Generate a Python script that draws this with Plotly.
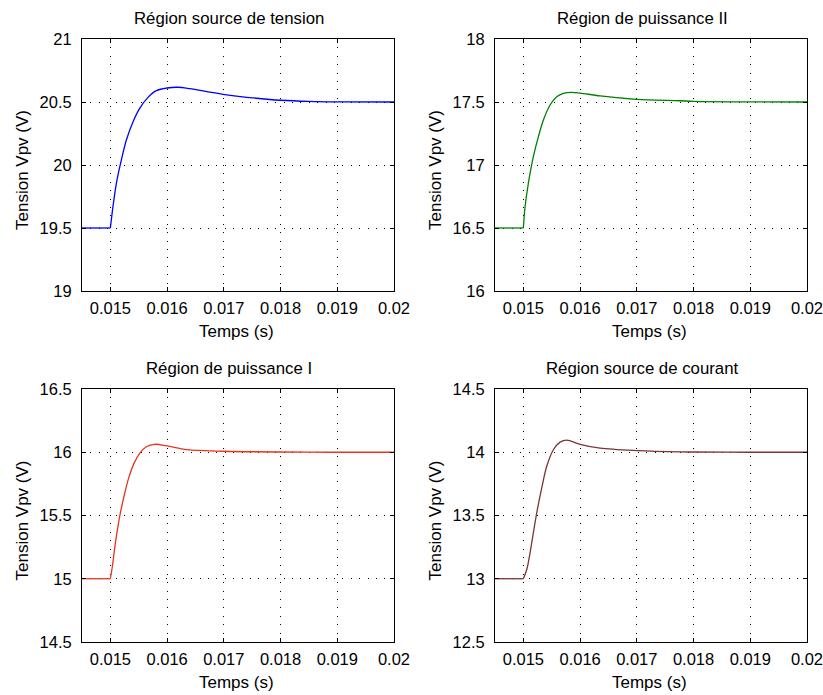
import plotly.graph_objects as go

W, H = 823, 695
OFF = 0  # body margin removed by post_script below

titles = ["Région source de tension", "Région de puissance II",
          "Région de puissance I", "Région source de courant"]
xlabel = "Temps (s)"
ylabel = "Tension Vpv (V)"

x_ticks = [0.015, 0.016, 0.017, 0.018, 0.019, 0.02]
x_ticktext = ["0.015", "0.016", "0.017", "0.018", "0.019", "0.02"]

t_blue = [0.0145, 0.015, 0.015046, 0.015106, 0.015194, 0.015282, 0.0154, 0.015517,
          0.015664, 0.015811, 0.016, 0.016192, 0.0164, 0.016986, 0.01781, 0.018,
          0.0185, 0.019, 0.02]
v_blue = [19.5, 19.5, 19.67, 19.855, 20.04, 20.198, 20.344, 20.45, 20.537, 20.59,
          20.611, 20.617, 20.606, 20.561, 20.52, 20.514, 20.505, 20.501, 20.5]

t_green = [0.0145, 0.015, 0.01503, 0.015088, 0.015176, 0.015265, 0.015353, 0.015471,
           0.015589, 0.015706, 0.015854, 0.016, 0.016353, 0.017, 0.01776, 0.018,
           0.019, 0.02]
v_green = [16.5, 16.5, 16.669, 16.855, 17.066, 17.225, 17.357, 17.476, 17.542,
           17.569, 17.577, 17.571, 17.548, 17.521, 17.51, 17.505, 17.501, 17.5]

t_red = [0.0145, 0.015, 0.015035, 0.015088, 0.015164, 0.015253, 0.01533, 0.015417,
         0.015517, 0.015635, 0.015782, 0.016, 0.01635, 0.017, 0.018, 0.019, 0.02]
v_red = [15.0, 15.0, 15.097, 15.282, 15.492, 15.676, 15.807, 15.912, 15.991, 16.043,
         16.063, 16.05, 16.02, 16.008, 16.002, 16.0, 16.0]

t_brown = [0.0145, 0.015, 0.01506, 0.015118, 0.015176, 0.015236, 0.015324, 0.015412,
           0.015529, 0.015647, 0.015765, 0.016, 0.016353, 0.017, 0.01776, 0.018,
           0.019, 0.02]
v_brown = [13.0, 13.0, 13.073, 13.205, 13.363, 13.521, 13.718, 13.889, 14.02, 14.08,
           14.096, 14.063, 14.032, 14.013, 14.003, 14.002, 14.0, 14.0]

y_ranges = [[19, 21], [16, 18], [14.5, 16.5], [12.5, 14.5]]
y_ticks = [[19, 19.5, 20, 20.5, 21], [16, 16.5, 17, 17.5, 18],
           [14.5, 15, 15.5, 16, 16.5], [12.5, 13, 13.5, 14, 14.5]]

series = [(t_blue, v_blue, "#0000FF"), (t_green, v_green, "#008000"),
          (t_red, v_red, "#E8341C"), (t_brown, v_brown, "#7A3434")]

# panel pixel boxes on screen (left, right, top, bottom)
boxes = [(82, 394, 39, 291), (495, 807, 39, 291), (82, 394, 389, 642), (495, 807, 389, 642)]

FONT = "Liberation Sans, Arial, Helvetica, sans-serif"


def px(x):
    return (x - OFF) / W


def py(y):
    return 1 - (y - OFF) / H


fig = go.Figure()
annotations = []
for i, ((t, v, c), (l, r, tp, bt)) in enumerate(zip(series, boxes)):
    n = "" if i == 0 else str(i + 1)
    fig.add_trace(go.Scatter(x=t[:2], y=v[:2], mode="lines", xaxis="x" + n, yaxis="y" + n,
                             line=dict(color=c, width=1.3),
                             showlegend=False, hoverinfo="skip"))
    fig.add_trace(go.Scatter(x=t[1:], y=v[1:], mode="lines", xaxis="x" + n, yaxis="y" + n,
                             line=dict(color=c, width=1.3, shape="spline", smoothing=0.9),
                             showlegend=False, hoverinfo="skip"))
    axstyle = dict(showline=True, linecolor="black", linewidth=1, mirror="ticks",
                   ticks="inside", ticklen=4, tickcolor="black", automargin=False,
                   ticklabeloverflow="allow",
                   showgrid=True, gridcolor="black", gridwidth=1, griddash="1px,7.4px",
                   zeroline=False, tickfont=dict(family=FONT, size=16.5, color="black"))
    fig.update_layout(**{
        "xaxis" + n: dict(domain=[px(l), px(r)], range=[0.0145, 0.02],
                          anchor="y" + n, tickvals=x_ticks, ticktext=x_ticktext,
                          ticklabelstandoff=2, **axstyle),
        "yaxis" + n: dict(domain=[py(bt), py(tp)], range=y_ranges[i],
                          anchor="x" + n, tickvals=y_ticks[i],
                          ticklabelstandoff=6, **axstyle),
    })
    annotations.append(dict(text=titles[i], x=px((l + r) / 2 - 9), y=py(tp - 21),
                            xref="paper", yref="paper", showarrow=False,
                            xanchor="center", yanchor="middle",
                            font=dict(family=FONT, size=16.8, color="black")))
    annotations.append(dict(text=xlabel, x=px((l + r) / 2 - 2), y=py(bt + 40),
                            xref="paper", yref="paper", showarrow=False,
                            xanchor="center", yanchor="middle",
                            font=dict(family=FONT, size=17, color="black")))
    annotations.append(dict(text=ylabel, x=px(l - 60), y=py((tp + bt) / 2 + 5),
                            xref="paper", yref="paper", showarrow=False, textangle=-90,
                            xanchor="center", yanchor="middle",
                            font=dict(family=FONT, size=17, color="black")))

fig.update_layout(width=W, height=H, margin=dict(l=0, r=0, t=0, b=0),
                  template="none",
                  paper_bgcolor="white", plot_bgcolor="white",
                  annotations=annotations)
fig.write_html("out.html", config={"displayModeBar": False},
               post_script="document.body.style.margin='0';"
                           "document.body.style.overflow='hidden';")
